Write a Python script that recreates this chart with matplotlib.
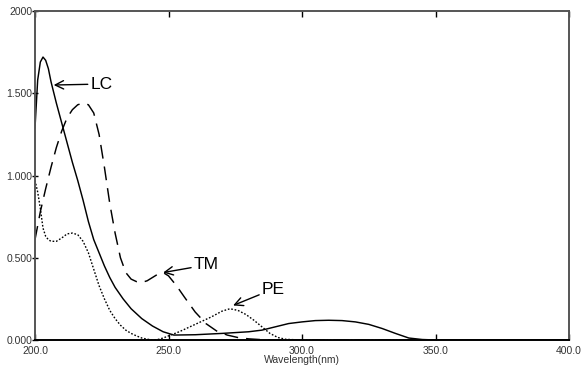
import matplotlib
matplotlib.use("Agg")
import matplotlib.pyplot as plt

# Data (absorbance scaled 0..2)
lc_wl = [200, 201, 202, 203, 204, 205, 206, 208, 210, 212, 214, 216, 218, 220, 222, 224, 226, 228, 230,
         233, 236, 240, 244, 248, 252, 260, 270, 280, 285, 290, 295, 300, 305, 310, 315, 320, 325, 330,
         335, 340, 345, 350, 400]
lc_val = [1.29, 1.58, 1.69, 1.72, 1.70, 1.65, 1.57, 1.44, 1.32, 1.20, 1.08, 0.97, 0.85, 0.72, 0.61, 0.53,
          0.45, 0.38, 0.32, 0.25, 0.19, 0.13, 0.085, 0.05, 0.03, 0.032, 0.04, 0.05, 0.06, 0.08, 0.10, 0.11,
          0.118, 0.12, 0.118, 0.11, 0.095, 0.07, 0.04, 0.012, 0.003, 0.0, 0.0]

tm_wl = [200, 202, 204, 206, 208, 210, 212, 214, 216, 218, 220, 222, 224, 226, 228, 230, 232, 234, 236,
         238, 240, 242, 244, 246, 248, 250, 253, 256, 260, 264, 268, 272, 276, 280, 285, 290, 400]
tm_val = [0.61, 0.78, 0.92, 1.05, 1.17, 1.27, 1.35, 1.40, 1.43, 1.44, 1.43, 1.38, 1.25, 1.05, 0.83, 0.65,
          0.50, 0.41, 0.37, 0.355, 0.35, 0.36, 0.38, 0.40, 0.41, 0.39, 0.33, 0.26, 0.17, 0.10, 0.055, 0.03,
          0.015, 0.007, 0.002, 0.0, 0.0]

pe_wl = [200, 201, 202, 203, 204, 205, 206, 208, 210, 212, 214, 216, 218, 220, 222, 224, 226, 228, 230,
         232, 234, 236, 238, 240, 242, 244, 246, 248, 250, 254, 258, 262, 266, 270, 273, 276, 279, 282,
         285, 288, 291, 294, 300, 400]
pe_val = [0.97, 0.90, 0.80, 0.68, 0.63, 0.61, 0.60, 0.60, 0.62, 0.645, 0.65, 0.64, 0.60, 0.53, 0.43, 0.33,
          0.25, 0.18, 0.13, 0.09, 0.06, 0.04, 0.025, 0.012, 0.005, 0.0, 0.003, 0.012, 0.025, 0.05, 0.08,
          0.11, 0.14, 0.175, 0.19, 0.18, 0.155, 0.12, 0.08, 0.04, 0.015, 0.004, 0.0, 0.0]

x_ticks = [200, 250, 300, 350, 400]
x_labels = ["200.0", "250.0", "300.0", "350.0", "400.0"]
y_ticks = [0.0, 0.5, 1.0, 1.5, 2.0]
y_labels = ["0.000", "0.500", "1.000", "1.500", "2000"]

plt.rcParams['font.family'] = ['Liberation Sans', 'DejaVu Sans']

fig = plt.figure(figsize=(5.87, 3.72), dpi=100)
ax = fig.add_axes([35/587, 1 - 340/372, (569-35)/587, (340-11)/372])

ax.plot(lc_wl, lc_val, color='black', lw=1.05, linestyle='-')
ax.plot(tm_wl, tm_val, color='black', lw=1.05, linestyle=(0, (9.5, 5.5)))
ax.plot(pe_wl, pe_val, color='black', lw=1.0, linestyle=(0, (1.2, 1.3)))

ax.set_xlim(200, 400)
ax.set_ylim(0, 2.0)
ax.set_xticks(x_ticks)
ax.set_xticklabels(x_labels)
ax.set_yticks(y_ticks)
ax.set_yticklabels(y_labels)

ax.tick_params(axis='x', direction='in', length=4, width=1, top=True, bottom=True,
               labelsize=7.5, pad=4, colors='black', labelcolor='#333333')
ax.tick_params(axis='y', direction='inout', length=4, width=1, left=True, right=False,
               labelsize=7.5, pad=0, labelcolor='#333333')
for s in ['top', 'left', 'right']:
    ax.spines[s].set_color('#555555')
    ax.spines[s].set_linewidth(1.4)
ax.spines['bottom'].set_color('black')
ax.spines['bottom'].set_linewidth(1.4)

ax.set_xlabel("Wavelength(nm)", fontsize=7.5, labelpad=-0.5, color='#333333')

arrow = dict(arrowstyle='->', color='black', lw=1.0, mutation_scale=15, shrinkA=0, shrinkB=0)
ax.annotate("LC", xy=(207.0, 1.55), xytext=(220.8, 1.556), fontsize=12.5,
            va='center', ha='left', arrowprops=arrow)
ax.annotate("TM", xy=(248.0, 0.41), xytext=(259.5, 0.456), fontsize=12.5,
            va='center', ha='left', arrowprops=arrow)
ax.annotate("PE", xy=(274.2, 0.21), xytext=(285.0, 0.31), fontsize=12.5,
            va='center', ha='left', arrowprops=arrow)

fig.savefig("out.png", dpi=100)
